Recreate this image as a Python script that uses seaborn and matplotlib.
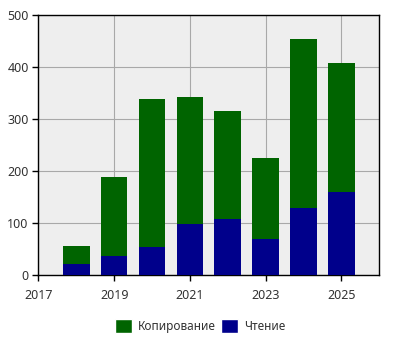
import matplotlib
matplotlib.use("Agg")
import matplotlib.pyplot as plt
import seaborn as sns
import pandas as pd
from matplotlib.patches import Patch

years = [2018, 2019, 2020, 2021, 2022, 2023, 2024, 2025]
reading = [21, 36, 54, 98, 108, 69, 129, 160]
copying = [35, 152, 284, 244, 207, 156, 325, 248]
series_names = ["Копирование", "Чтение"]
xticks = [2017, 2019, 2021, 2023, 2025]
yticks = [0, 100, 200, 300, 400, 500]

df = pd.DataFrame({"year": years, "reading": reading, "copying": copying})
df["total"] = df["reading"] + df["copying"]

sns.set_style("white")
plt.rcParams["font.family"] = ["Noto Sans", "DejaVu Sans"]

fig = plt.figure(figsize=(4, 3.5), dpi=100)
ax = fig.add_axes([0.096, 0.214, 0.852, 0.743])
ax.set_facecolor("#eeeeee")

green = "#006400"
blue = "#00008b"
sns.barplot(data=df, x="year", y="total", native_scale=True, color=green,
            width=0.7, saturation=1, ax=ax, zorder=2, linewidth=0)
sns.barplot(data=df, x="year", y="reading", native_scale=True, color=blue,
            width=0.7, saturation=1, ax=ax, zorder=3, linewidth=0)

ax.set_xlim(2017, 2026)
ax.set_ylim(0, 500)
ax.set_xticks(xticks)
ax.set_xticklabels([str(t) for t in xticks])
ax.set_yticks(yticks)
ax.set_xlabel("")
ax.set_ylabel("")
ax.grid(True, color="#a8a8a8", linewidth=0.8, zorder=0)
ax.set_axisbelow(True)
for s in ax.spines.values():
    s.set_visible(True)
    s.set_color("black")
    s.set_linewidth(1)
ax.tick_params(axis="both", direction="out", length=4, width=1, color="black",
               labelsize=9, labelcolor="#333333", bottom=True, left=True, pad=3)
ax.tick_params(axis="x", pad=6)

handles = [Patch(facecolor=green, label=series_names[0]),
           Patch(facecolor=blue, label=series_names[1])]
fig.legend(handles=handles, loc="center", bbox_to_anchor=(0.5, 0.068), ncol=2,
           frameon=False, fontsize=8.5, handlelength=1.4, handleheight=1.4,
           columnspacing=0.5, handletextpad=0.5, labelcolor="#333333")

fig.savefig("out.png", dpi=100)
